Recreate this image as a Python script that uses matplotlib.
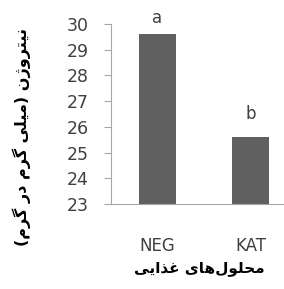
import matplotlib
matplotlib.use("Agg")
import matplotlib.pyplot as plt

categories = ["NEG", "KAT"]
values = [29.6, 25.6]
letters = ["a", "b"]
yticks = [23, 24, 25, 26, 27, 28, 29, 30]

# Persian text, pre-shaped (presentation forms, visual order) since matplotlib does no shaping
ylabel = ("(" + "\ufee1\ufeae\ufb94" + " " + "\ufead\ufea9" + " " + "\ufee1\ufeae\ufb94" + " "
          + "\ufbfd\ufee0\ufbff\ufee3" + ")" + " "
          + "\ufee5\ufb8a\ufeed\ufeae\ufe98\ufbff\ufee7")
xlabel = ("\ufbfd\ufbfe\ufe8d\ufeac\ufecf" + " " + "\ufbfc\ufe8e\ufeeb"
          + "\ufedd\ufeee\ufee0\ufea4\ufee3")

plt.rcParams['font.family'] = ['DejaVu Sans']

fig = plt.figure(figsize=(2.84, 2.89), dpi=100)
ax = fig.add_axes([111/284, 1-204/289, 186/284, 180/289])

x = range(len(categories))
ax.bar(x, values, width=0.4, color="#606060")
ax.set_ylim(23, 30)
ax.set_xlim(-0.5, 1.5)
ax.set_yticks(yticks)
ax.set_xticks(list(x))
ax.set_xticklabels(categories)

pads = [11, 18]
for i, (v, l) in enumerate(zip(values, letters)):
    ax.annotate(l, (i, v), xytext=(0, pads[i]), textcoords="offset pixels",
                ha="center", va="baseline", fontsize=12, color="#404040")

for s in ["top", "right"]:
    ax.spines[s].set_visible(False)
ax.spines["left"].set_color("#a6a6a6")
ax.spines["bottom"].set_color("#a6a6a6")
ax.tick_params(axis="y", direction="out", length=5, color="#a6a6a6",
               labelsize=12.5, labelcolor="#404040", pad=11)
ax.tick_params(axis="x", length=0, labelsize=12, labelcolor="#404040", pad=24)

fig.text(22/284, 1-137/289, ylabel, rotation=90, ha="center", va="center",
         fontsize=11.5, fontweight="bold")
fig.text(199/284, 1-268/289, xlabel, ha="center", va="center",
         fontsize=11, fontweight="bold")

fig.savefig("out.png", dpi=100)
